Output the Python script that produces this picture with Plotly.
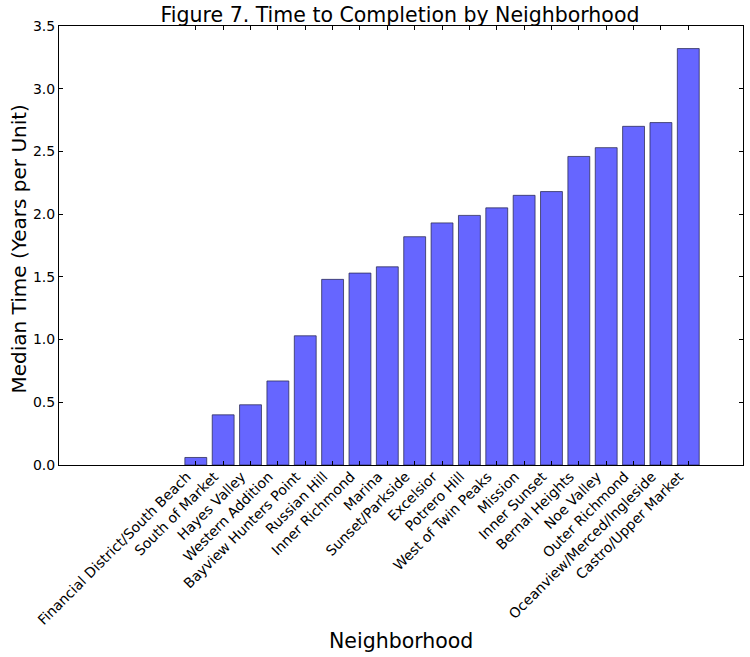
import plotly.graph_objects as go

neighborhoods = [
    "Financial District/South Beach", "South of Market", "Hayes Valley",
    "Western Addition", "Bayview Hunters Point", "Russian Hill",
    "Inner Richmond", "Marina", "Sunset/Parkside", "Excelsior",
    "Potrero Hill", "West of Twin Peaks", "Mission", "Inner Sunset",
    "Bernal Heights", "Noe Valley", "Outer Richmond",
    "Oceanview/Merced/Ingleside", "Castro/Upper Market",
]
median_years = [
    0.06, 0.40, 0.48, 0.67, 1.03, 1.48, 1.53, 1.58, 1.82, 1.93,
    1.99, 2.05, 2.15, 2.18, 2.46, 2.53, 2.70, 2.73, 3.32,
]
y_ticks = [0.0, 0.5, 1.0, 1.5, 2.0, 2.5, 3.0, 3.5]

fig = go.Figure(go.Bar(
    x=neighborhoods, y=median_years,
    marker=dict(color="#6666ff", line=dict(color="rgba(40,40,80,0.75)", width=1)),
))

W, H = 750, 657
font = "DejaVu Sans"
fig.update_layout(
    width=W, height=H,
    margin=dict(l=59, r=7, t=26, b=192, autoexpand=False),
    paper_bgcolor="white", plot_bgcolor="white",
    font=dict(family=font, color="black"),
    bargap=0.2,
    showlegend=False,
    title=dict(text="Figure 7. Time to Completion by Neighborhood",
               font=dict(size=20.5, family=font, color="black"),
               x=400 / W, xanchor="center", yref="container", y=1 - 15 / H, yanchor="middle"),
    annotations=[
        dict(text="Neighborhood", xref="paper", yref="paper", x=0.5, y=0,
             yshift=-176, xanchor="center", yanchor="middle",
             showarrow=False, font=dict(size=20.5)),
        dict(text="Median Time (Years per Unit)", xref="paper", yref="paper", x=0, y=0.5,
             xshift=-41, yshift=-4, xanchor="center", yanchor="middle", textangle=-90,
             showarrow=False, font=dict(size=20)),
    ],
)
fig.update_xaxes(
    type="category", range=[-5, 20], tickangle=-45, automargin=False,
    tickfont=dict(size=14), ticks="inside", ticklen=4, tickcolor="black",
    ticklabelstandoff=-3, ticklabelshift=-9,
    showline=True, linecolor="black", linewidth=1, mirror="allticks",
    showgrid=False, zeroline=False,
)
fig.update_yaxes(
    range=[0, 3.5], tickvals=y_ticks, ticktext=[f"{v:.1f}" for v in y_ticks],
    automargin=False,
    tickfont=dict(size=14), ticks="inside", ticklen=4, tickcolor="black",
    showline=True, linecolor="black", linewidth=1, mirror="allticks",
    showgrid=False, zeroline=False,
)
# remove the browser's default 8px body margin so the figure sits at the page origin
fig.write_html("out.html", config={"displayModeBar": False},
               post_script="document.body.style.margin='0';document.body.style.overflow='hidden';")
